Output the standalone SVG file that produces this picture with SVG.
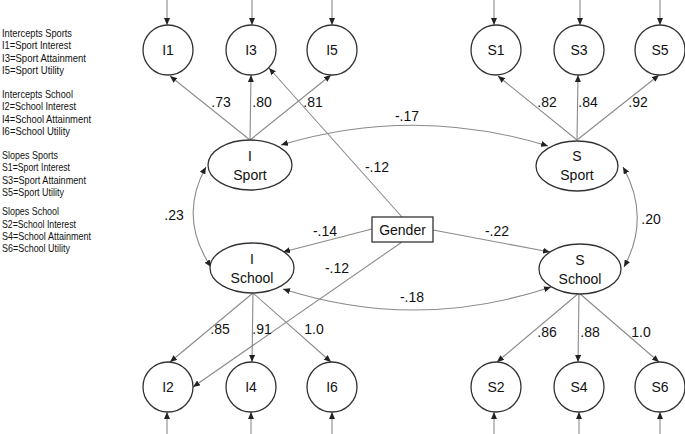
<svg xmlns="http://www.w3.org/2000/svg" width="685" height="434" viewBox="0 0 685 434">
<defs>
<marker id="ah" viewBox="0 0 7 6" refX="7" refY="3" markerWidth="7" markerHeight="6" markerUnits="userSpaceOnUse" orient="auto-start-reverse">
<path d="M0,0 L7,3 L0,6 z" fill="#222"/>
</marker>
<style>
text{font-family:"Liberation Sans",Arial,sans-serif;fill:#111}
.lg{font-size:10.4px}
.nd{font-size:14px;text-anchor:middle}
.lb{font-size:14px;text-anchor:middle}
.sh{fill:#fff;stroke:#333;stroke-width:1.3}
.cn{fill:none;stroke:#8a8a8a;stroke-width:1.1}
.ar{marker-end:url(#ah)}
.dbl{marker-start:url(#ah);marker-end:url(#ah)}
</style>
</defs>
<rect width="685" height="434" fill="#fff"/>
<g id="legend" class="lg" lengthAdjust="spacingAndGlyphs">
<text x="2" y="37" textLength="70" lengthAdjust="spacingAndGlyphs">Intercepts Sports</text>
<text x="2" y="49" textLength="69" lengthAdjust="spacingAndGlyphs">I1=Sport Interest</text>
<text x="2" y="62" textLength="84" lengthAdjust="spacingAndGlyphs">I3=Sport Attainment</text>
<text x="2" y="74" textLength="62" lengthAdjust="spacingAndGlyphs">I5=Sport Utility</text>
<text x="2" y="98" textLength="71" lengthAdjust="spacingAndGlyphs">Intercepts School</text>
<text x="2" y="110" textLength="74" lengthAdjust="spacingAndGlyphs">I2=School Interest</text>
<text x="2" y="123" textLength="89" lengthAdjust="spacingAndGlyphs">I4=School Attainment</text>
<text x="2" y="135" textLength="68" lengthAdjust="spacingAndGlyphs">I6=School Utility</text>
<text x="2" y="159" textLength="56" lengthAdjust="spacingAndGlyphs">Slopes Sports</text>
<text x="2" y="171" textLength="68" lengthAdjust="spacingAndGlyphs">S1=Sport Interest</text>
<text x="2" y="184" textLength="84" lengthAdjust="spacingAndGlyphs">S3=Sport Attainment</text>
<text x="2" y="196" textLength="62" lengthAdjust="spacingAndGlyphs">S5=Sport Utility</text>
<text x="2" y="215" textLength="57" lengthAdjust="spacingAndGlyphs">Slopes School</text>
<text x="2" y="228" textLength="74" lengthAdjust="spacingAndGlyphs">S2=School Interest</text>
<text x="2" y="240" textLength="89" lengthAdjust="spacingAndGlyphs">S4=School Attainment</text>
<text x="2" y="252" textLength="68" lengthAdjust="spacingAndGlyphs">S6=School Utility</text>
</g>
<g id="connectors">
<path class="cn ar" d="M167,0 V25"/>
<path class="cn ar" d="M252,0 V25"/>
<path class="cn ar" d="M332,0 V25"/>
<path class="cn ar" d="M494,0 V25"/>
<path class="cn ar" d="M580,0 V25"/>
<path class="cn ar" d="M660,0 V25"/>
<path class="cn ar" d="M167,434 V412"/>
<path class="cn ar" d="M251,434 V412"/>
<path class="cn ar" d="M332,434 V412"/>
<path class="cn ar" d="M494,434 V412"/>
<path class="cn ar" d="M579,434 V412"/>
<path class="cn ar" d="M660,434 V412"/>
<path class="cn ar" d="M250,140 L170,76"/>
<path class="cn ar" d="M250,140 L251,75"/>
<path class="cn ar" d="M250,140 L331,75"/>
<path class="cn ar" d="M577,140 L498,76"/>
<path class="cn ar" d="M577,140 L578,75"/>
<path class="cn ar" d="M577,140 L659,75"/>
<path class="cn ar" d="M253,293 L170,362"/>
<path class="cn ar" d="M253,293 L252,362"/>
<path class="cn ar" d="M253,293 L331,362"/>
<path class="cn ar" d="M579,293 L497,362"/>
<path class="cn ar" d="M579,293 L578,362"/>
<path class="cn ar" d="M579,293 L659,362"/>
<path class="cn dbl" d="M281,145 Q414,105 548,146"/>
<path class="cn dbl" d="M206,167 Q178,217 211,267"/>
<path class="cn dbl" d="M623,167 Q651,217 624,267"/>
<path class="cn dbl" d="M283,289 Q417,332 551,287"/>
<path class="cn ar" d="M402,217 L269,68"/>
<path class="cn ar" d="M372,229 L283,252"/>
<path class="cn ar" d="M402,242 L193,387"/>
<path class="cn ar" d="M433,230 L550,252"/>
</g>
<g id="I1"><circle class="sh" cx="168" cy="50" r="25"/><text class="nd" x="168" y="55">I1</text></g>
<g id="I3"><circle class="sh" cx="251" cy="50" r="25"/><text class="nd" x="251" y="55">I3</text></g>
<g id="I5"><circle class="sh" cx="332" cy="50" r="25"/><text class="nd" x="332" y="55">I5</text></g>
<g id="S1"><circle class="sh" cx="496" cy="50" r="25"/><text class="nd" x="496" y="55">S1</text></g>
<g id="S3"><circle class="sh" cx="579" cy="50" r="25"/><text class="nd" x="579" y="55">S3</text></g>
<g id="S5"><circle class="sh" cx="660" cy="50" r="25"/><text class="nd" x="660" y="55">S5</text></g>
<g id="I2"><circle class="sh" cx="168" cy="387" r="25"/><text class="nd" x="168" y="392">I2</text></g>
<g id="I4"><circle class="sh" cx="251" cy="387" r="25"/><text class="nd" x="251" y="392">I4</text></g>
<g id="I6"><circle class="sh" cx="332" cy="387" r="25"/><text class="nd" x="332" y="392">I6</text></g>
<g id="S2"><circle class="sh" cx="496" cy="387" r="25"/><text class="nd" x="496" y="392">S2</text></g>
<g id="S4"><circle class="sh" cx="579" cy="387" r="25"/><text class="nd" x="579" y="392">S4</text></g>
<g id="S6"><circle class="sh" cx="660" cy="387" r="25"/><text class="nd" x="660" y="392">S6</text></g>
<g id="ISport"><ellipse class="sh" cx="250" cy="165" rx="42" ry="25"/><text class="nd" x="250" y="161">I</text><text class="nd" x="250" y="180">Sport</text></g>
<g id="ISchool"><ellipse class="sh" cx="252" cy="268" rx="42" ry="25"/><text class="nd" x="252" y="264">I</text><text class="nd" x="252" y="283">School</text></g>
<g id="SSport"><ellipse class="sh" cx="577" cy="166" rx="41" ry="25"/><text class="nd" x="577" y="161">S</text><text class="nd" x="577" y="180">Sport</text></g>
<g id="SSchool"><ellipse class="sh" cx="580" cy="269" rx="41" ry="25"/><text class="nd" x="580" y="265">S</text><text class="nd" x="580" y="284">School</text></g>
<g id="Gender"><rect class="sh" x="372" y="217" width="61" height="25"/><text class="nd" x="402.5" y="235">Gender</text></g>
<g id="labels" class="lb">
<text x="221" y="107">.73</text>
<text x="262" y="107">.80</text>
<text x="313" y="107">.81</text>
<text x="547" y="107">.82</text>
<text x="588" y="107">.84</text>
<text x="638" y="107">.92</text>
<text x="220" y="334">.85</text>
<text x="262" y="334">.91</text>
<text x="314" y="334">1.0</text>
<text x="547" y="337">.86</text>
<text x="590" y="337">.88</text>
<text x="641" y="337">1.0</text>
<text x="407" y="121">-.17</text>
<text x="174" y="220">.23</text>
<text x="651" y="224">.20</text>
<text x="412" y="302">-.18</text>
<text x="377" y="172">-.12</text>
<text x="325" y="236">-.14</text>
<text x="337" y="273">-.12</text>
<text x="497" y="236">-.22</text>
</g>
</svg>
